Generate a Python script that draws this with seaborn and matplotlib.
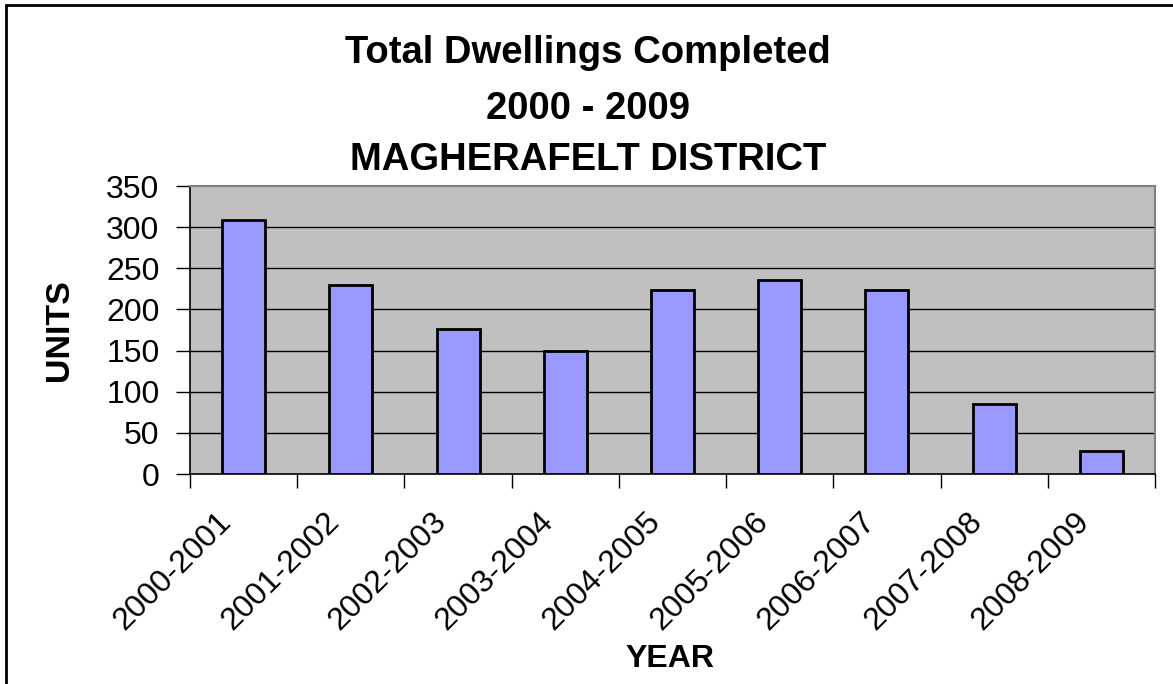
import matplotlib
matplotlib.use("Agg")
import matplotlib.pyplot as plt
import matplotlib.transforms as mtransforms
import seaborn as sns
import pandas as pd
from matplotlib.lines import Line2D

years = ["2000-2001", "2001-2002", "2002-2003", "2003-2004", "2004-2005",
         "2005-2006", "2006-2007", "2007-2008", "2008-2009"]
units = [309, 230, 176, 150, 224, 236, 224, 85, 28]
yticks = [0, 50, 100, 150, 200, 250, 300, 350]

df = pd.DataFrame({"year": years, "units": units})

sns.set_theme(style="white")
plt.rcParams['font.family'] = ['Liberation Sans', 'DejaVu Sans']
plt.rcParams['text.color'] = 'black'
plt.rcParams['xtick.color'] = 'black'
plt.rcParams['ytick.color'] = 'black'
plt.rcParams['axes.labelcolor'] = 'black'

W, H = 1173, 684
fig = plt.figure(figsize=(W / 100, H / 100), dpi=100)
ax = fig.add_axes([190 / W, 1 - 474 / H, (1155 - 190) / W, (474 - 186) / H])
ax.set_facecolor("#C0C0C0")

sns.barplot(data=df, x="year", y="units", ax=ax, color="#9999FF",
            saturation=1, width=0.4, edgecolor="black", linewidth=2, zorder=3)

ax.set_ylim(0, 350)
ax.set_xlim(-0.5, len(years) - 0.5)
ax.set_yticks(yticks)
ax.set_yticklabels([str(v) for v in yticks], fontsize=23, color="black")
for v in yticks[1:-1]:
    ax.axhline(v, color="black", lw=1, zorder=1)

# x ticks at category boundaries, labels at centers
ax.set_xticks([i - 0.5 for i in range(len(years) + 1)])
ax.set_xticklabels([])
ax.set_xticks(range(len(years)), minor=True)
ax.set_xticklabels(years, minor=True, rotation=45, ha="right",
                   rotation_mode="anchor", fontsize=23, color="black")
ax.tick_params(axis="x", which="minor", length=0, pad=14)
ax.tick_params(axis="x", which="major", direction="out", length=10,
               width=1, color="black", bottom=True)
ax.tick_params(axis="y", direction="out", length=10, width=1,
               color="black", left=True, pad=12)

offset = mtransforms.ScaledTranslation(-27 / 100, -13 / 100, fig.dpi_scale_trans)
for lab in ax.get_xticklabels(minor=True):
    lab.set_transform(lab.get_transform() + offset)

for s in ["top", "right"]:
    ax.spines[s].set_color("#808080")
    ax.spines[s].set_linewidth(1.5)
ax.spines["left"].set_color("black")
ax.spines["bottom"].set_color("black")
ax.spines["left"].set_linewidth(1.2)
ax.spines["bottom"].set_linewidth(1.2)

ax.set_xlabel("")
ax.set_ylabel("")
fig.text(60 / W, 1 - 330 / H, "UNITS", rotation=90, fontsize=24.5,
         fontweight="bold", ha="center", va="center", color="black")
fig.text(670 / W, 1 - 667 / H, "YEAR", fontsize=23, fontweight="bold",
         ha="center", va="baseline", color="black")

title_lines = ["Total Dwellings Completed", "2000 - 2009", "MAGHERAFELT DISTRICT"]
baselines = [63, 119, 170]
for t, b in zip(title_lines, baselines):
    fig.text(588 / W, 1 - b / H, t, fontsize=27.5, fontweight="bold",
             ha="center", va="baseline", color="black")

# outer border (top and left visible)
fig.add_artist(Line2D([6 / W, 6 / W], [0, 1 - 5 / H], color="black", lw=2,
                      transform=fig.transFigure))
fig.add_artist(Line2D([6 / W, 1], [1 - 5 / H, 1 - 5 / H], color="black", lw=2,
                      transform=fig.transFigure))

fig.savefig("out.png", dpi=100, facecolor="white")
